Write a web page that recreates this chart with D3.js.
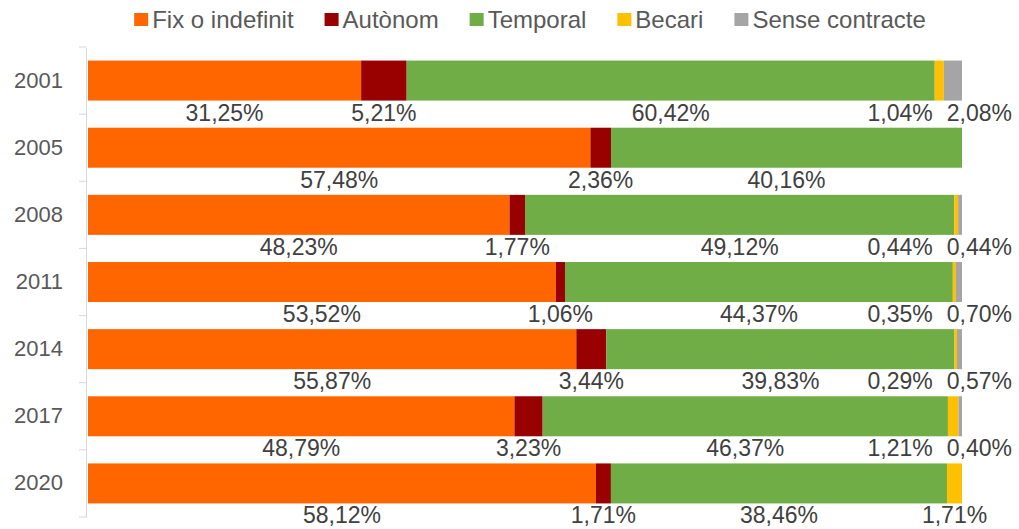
<!DOCTYPE html>
<html>
<head>
<meta charset="utf-8">
<script src="https://cdn.jsdelivr.net/npm/d3@7"></script>
<style>
  body { margin: 0; background: #fff; }
  svg text { font-family: "Liberation Sans", Arial, sans-serif; }
</style>
</head>
<body>
<svg id="chart" width="1019" height="529"></svg>
<script>
// data (percent of each year)
var years = ["2001", "2005", "2008", "2011", "2014", "2017", "2020"];
var seriesNames = ["Fix o indefinit", "Autònom", "Temporal", "Becari", "Sense contracte"];
var seriesColors = ["#FF6600", "#990000", "#70AD47", "#FFC000", "#A5A5A5"];

var fix      = [31.25, 57.48, 48.23, 53.52, 55.87, 48.79, 58.12];
var autonom  = [5.21, 2.36, 1.77, 1.06, 3.44, 3.23, 1.71];
var temporal = [60.42, 40.16, 49.12, 44.37, 39.83, 46.37, 38.46];
var becari   = [1.04, 0, 0.44, 0.35, 0.29, 1.21, 1.71];
var sense    = [2.08, 0, 0.44, 0.70, 0.57, 0.40, 0];

var allSeries = [fix, autonom, temporal, becari, sense];

var svg = d3.select("#chart");

var x = d3.scaleLinear().domain([0, 100]).range([88, 962]);
var y = d3.scaleBand().domain(years).range([47, 517])
    .paddingInner(0.404).paddingOuter(0.202);

// rows: stacked segments per year
var rows = years.map(function(yr, i) {
    var cum = 0;
    var segs = allSeries.map(function(s, k) {
        var seg = {year: yr, k: k, v: s[i], x0: cum, x1: cum + s[i]};
        cum += s[i];
        return seg;
    });
    return {year: yr, segs: segs};
});

// axis (left), Excel style: ticks on category boundaries
var axisG = svg.append("g").attr("transform", "translate(86,0)")
    .call(d3.axisLeft(y).tickSize(0).tickSizeOuter(0).tickPadding(23));
axisG.select(".domain").attr("stroke", "#d9d9d9");
axisG.selectAll("text").attr("font-size", 22).attr("fill", "#595959")
    .attr("font-family", "Liberation Sans, Arial, sans-serif");

var bounds = d3.range(years.length + 1).map(function(i) { return y.range()[0] + i * y.step(); });
svg.append("g").selectAll("line").data(bounds).enter().append("line")
    .attr("x1", 79).attr("x2", 86)
    .attr("y1", function(d) { return d; }).attr("y2", function(d) { return d; })
    .attr("stroke", "#d9d9d9");

// bars
var rowG = svg.append("g").selectAll("g.row").data(rows).enter().append("g").attr("class", "row");
rowG.selectAll("rect").data(function(d) { return d.segs.filter(function(s) { return s.v > 0; }); })
    .enter().append("rect")
    .attr("x", function(d) { return x(d.x0); })
    .attr("width", function(d) { return x(d.x1) - x(d.x0); })
    .attr("y", function(d) { return y(d.year); })
    .attr("height", y.bandwidth())
    .attr("fill", function(d) { return seriesColors[d.k]; });

// value labels below each bar, spread apart where they collide
var fmt = function(v) { return v.toFixed(2).replace(".", ",") + "%"; };
var gap = 14, rightLimit = 1012;

rows.forEach(function(r) {
    var segs = r.segs.filter(function(s) { return s.v > 0; });
    var g = svg.append("g");
    var lbls = segs.map(function(s) {
        var t = g.append("text")
            .attr("y", y(r.year) + y.bandwidth() + 20)
            .attr("text-anchor", "middle")
            .attr("font-size", 23)
            .attr("fill", "#404040")
            .text(fmt(s.v));
        return {node: t, cx: x((s.x0 + s.x1) / 2), w: t.node().getComputedTextLength()};
    });
    for (var it = 0; it < 20; it++) {
        for (var i = 0; i < lbls.length - 1; i++) {
            var a = lbls[i], b = lbls[i + 1];
            var o = (a.cx + a.w / 2 + gap) - (b.cx - b.w / 2);
            if (o > 0) { a.cx -= o / 2; b.cx += o / 2; }
        }
        var last = lbls[lbls.length - 1];
        var over = last.cx + last.w / 2 - rightLimit;
        if (over > 0) last.cx -= over;
        for (var j = lbls.length - 2; j >= 0; j--) {
            var p = lbls[j], q = lbls[j + 1];
            var o2 = (p.cx + p.w / 2 + gap) - (q.cx - q.w / 2);
            if (o2 > 0) p.cx -= o2;
        }
    }
    lbls.forEach(function(l) { l.node.attr("x", l.cx); });
});

// legend, centred on top
var legG = svg.append("g");
var items = legG.selectAll("g").data(seriesNames).enter().append("g");
items.append("rect").attr("width", 14).attr("height", 13).attr("y", 13)
    .attr("fill", function(d, i) { return seriesColors[i]; });
items.append("text").attr("x", 18).attr("y", 27.5).attr("font-size", 24)
    .attr("fill", "#595959").text(function(d) { return d; });
var pos = 0, offs = [];
items.each(function() {
    offs.push(pos);
    pos += 18 + d3.select(this).select("text").node().getComputedTextLength() + 31;
});
var total = pos - 31;
var start = 137 + (923 - 137 - total) / 2;
items.attr("transform", function(d, i) { return "translate(" + (start + offs[i]) + ",0)"; });
</script>
</body>
</html>
